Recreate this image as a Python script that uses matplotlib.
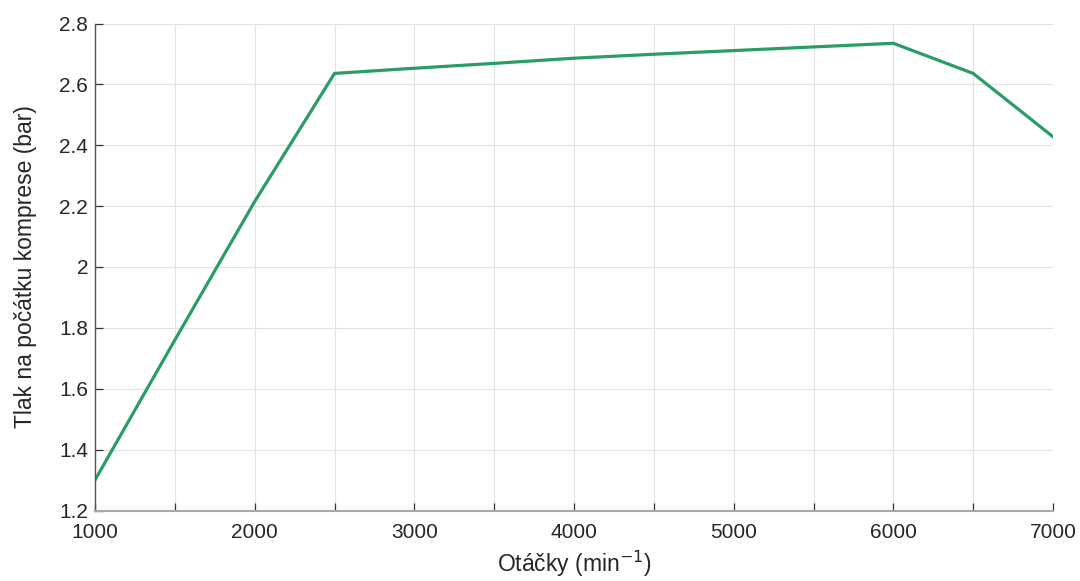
import matplotlib
matplotlib.use("Agg")
import matplotlib.pyplot as plt

rpm = [1000, 1500, 2000, 2500, 3000, 3500, 4000, 4500, 5000, 5500, 6000, 6500, 7000]
pressure = [1.30, 1.76, 2.215, 2.636, 2.653, 2.669, 2.686, 2.699, 2.711, 2.723, 2.735, 2.636, 2.428]
xticks = [1000, 1500, 2000, 2500, 3000, 3500, 4000, 4500, 5000, 5500, 6000, 6500, 7000]
xticklabels = ["1000", "", "2000", "", "3000", "", "4000", "", "5000", "", "6000", "", "7000"]
yticks = [1.2, 1.4, 1.6, 1.8, 2.0, 2.2, 2.4, 2.6, 2.8]
yticklabels = ["1.2", "1.4", "1.6", "1.8", "2", "2.2", "2.4", "2.6", "2.8"]

plt.rcParams['font.family'] = ['Liberation Sans', 'DejaVu Sans']

fig = plt.figure(figsize=(10.8, 5.81), dpi=100)
ax = fig.add_axes([95/1080, 1 - 510.5/581, (1053-95)/1080, (510.5-23.5)/581])

ax.plot(rpm, pressure, color='#2a9d67', linewidth=2.3, solid_joinstyle='miter')

ax.set_xlim(1000, 7000)
ax.set_ylim(1.2, 2.8)
ax.set_xticks(xticks)
ax.set_xticklabels(xticklabels)
ax.set_yticks(yticks)
ax.set_yticklabels(yticklabels)
ax.grid(True, color='#e3e3e3', linewidth=0.8)
ax.set_axisbelow(True)

for s in ['top', 'right']:
    ax.spines[s].set_visible(False)
ax.spines['left'].set_color('#555555')
ax.spines['bottom'].set_color('#a8a8a8')
ax.spines['left'].set_linewidth(1.0)
ax.spines['bottom'].set_linewidth(1.5)

ax.tick_params(axis='both', direction='in', length=6, width=0.9, color='#333333',
               labelsize=15, labelcolor='#262626')
ax.tick_params(axis='x', pad=9)
ax.tick_params(axis='y', pad=5)

ax.set_xlabel('Otáčky (min$^{\\mathsf{-1}}$)', fontsize=16.5, color='#262626', labelpad=5)
ax.set_ylabel('Tlak na počátku komprese (bar)', fontsize=16.5, color='#262626', labelpad=16)

fig.savefig('out.png', dpi=100)
